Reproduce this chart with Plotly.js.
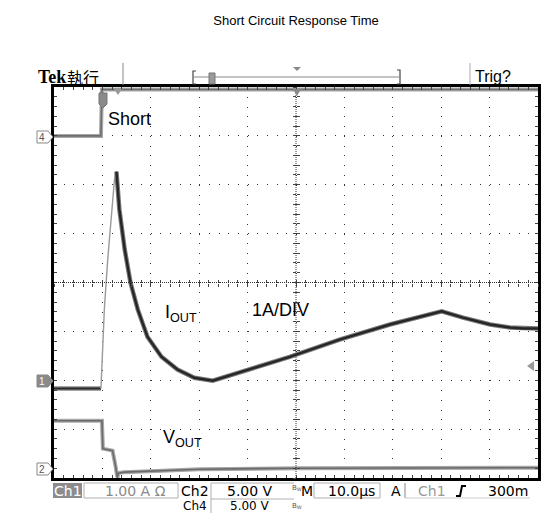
<!DOCTYPE html>
<html><head><meta charset="utf-8">
<script src="https://cdn.plot.ly/plotly-3.0.1.min.js"></script>
<style>html,body{margin:0;padding:0;background:#fff;}#chart{width:542px;height:513px;}</style>
</head><body><div id="chart"></div>
<script>
// Time in µs (10 µs/div, 0 = screen centre); values in divisions (0 = screen centre)
// Ch1 : output current I_OUT (1 A/div)
const iTime = [-50, -40.3, -39.6, -38.9, -38.1, -37.5, -37.1, -36.5, -35.4, -34.2, -32.7, -30.7, -27.8, -24.5, -21.0, -18.3, -17.2, -1.3, 9.0, 19.4, 30.1, 34.5, 40.1, 44.2, 46.9, 50];
const iVal  = [-2.17, -2.17, -0.55, 0.47, 1.50, 2.11, 2.27, 1.50, 0.68, 0.00, -0.55, -1.11, -1.52, -1.78, -1.95, -1.99, -2.01, -1.52, -1.17, -0.86, -0.59, -0.72, -0.86, -0.92, -0.94, -0.94];
const iEdgeEnd = 6;   // index of the current peak (end of the fast rising edge)
// Ch2 : output voltage V_OUT
const vTime = [-50, -40.1, -39.9, -37.9, -37.3, -36.9, -36.7, -35.5, -19.9, 0.8, 50];
const vVal  = [-2.83, -2.83, -3.40, -3.44, -3.75, -3.99, -3.90, -3.88, -3.82, -3.80, -3.79];
// Ch4 : short command
const sTime = [-50, -40.3, -40.1, 50];
const sVal  = [3.0, 3.0, 3.95, 3.95];

const chartTitle = 'Short Circuit Response Time';
const statusRow1 = ['Ch1', '1.00 A \u03a9', 'Ch2', '5.00 V', 'M', '10.0\u00b5s', 'A', 'Ch1', '300m'];
const statusRow2 = ['Ch4', '5.00 V'];

const W = 542, H = 513, L = 54, R = 4, T = 87, B = 35;
const pw = W - L - R, ph = H - T - B;
const fx = x => (x - L) / pw;
const fy = y => (H - B - y) / ph;
const P = (pts, close) => 'M' + pts.map(p => fx(p[0]).toFixed(5) + ',' + fy(p[1]).toFixed(5)).join('L') + (close === false ? '' : 'Z');

const SANS = 'Liberation Sans, Arial, sans-serif';
const TEKF = 'DejaVu Sans, sans-serif';

function seg(a, i0, i1) { return a.slice(i0, i1 + 1); }

const traces = [
  // Ch4
  {x: sTime, y: sVal, mode: 'lines', line: {color: '#a8a8a8', width: 4}, hoverinfo: 'skip'},
  {x: sTime, y: sVal, mode: 'lines', line: {color: '#6e6e6e', width: 1.6}, hoverinfo: 'skip'},
  // Ch2
  {x: vTime, y: vVal, mode: 'lines', line: {color: '#a8a8a8', width: 4}, hoverinfo: 'skip'},
  {x: vTime, y: vVal, mode: 'lines', line: {color: '#6a6a6a', width: 1.6}, hoverinfo: 'skip'},
  // Ch1 baseline
  {x: seg(iTime, 0, 1), y: seg(iVal, 0, 1), mode: 'lines', line: {color: '#8a8a8a', width: 4.5}, hoverinfo: 'skip'},
  {x: seg(iTime, 0, 1), y: seg(iVal, 0, 1), mode: 'lines', line: {color: '#2a2a2a', width: 2}, hoverinfo: 'skip'},
  // Ch1 fast edge
  {x: seg(iTime, 1, iEdgeEnd), y: seg(iVal, 1, iEdgeEnd), mode: 'lines', line: {color: '#9a9a9a', width: 1.4}, hoverinfo: 'skip'},
  // Ch1 decay and ramp
  {x: iTime.slice(iEdgeEnd), y: iVal.slice(iEdgeEnd), mode: 'lines', line: {color: '#7a7a7a', width: 4.5}, hoverinfo: 'skip'},
  {x: iTime.slice(iEdgeEnd), y: iVal.slice(iEdgeEnd), mode: 'lines', line: {color: '#262626', width: 2.4}, hoverinfo: 'skip'},
  // carriers for the centre-line tick axes
  {x: [], y: [], xaxis: 'x2', yaxis: 'y2', hoverinfo: 'skip'},
  {x: [], y: [], xaxis: 'x3', yaxis: 'y3', hoverinfo: 'skip'}
];

const baseX = {range: [-50, 50], showticklabels: false, zeroline: false, showgrid: false, fixedrange: true};
const baseY = {range: [-4, 4], showticklabels: false, zeroline: false, showgrid: false, fixedrange: true};

const shapes = [
  // centre cross lines
  {type: 'line', xref: 'paper', yref: 'y', x0: 0, x1: 1, y0: 0, y1: 0, line: {color: '#333', width: 1, dash: '1px,1px'}},
  {type: 'line', xref: 'x', yref: 'paper', x0: 0, x1: 0, y0: 0, y1: 1, line: {color: '#333', width: 1, dash: '1px,1px'}},
  // header separators
  {type: 'path', xref: 'paper', yref: 'paper', path: P([[123, 63], [123, 85]], false), line: {color: '#888', width: 1}},
  {type: 'path', xref: 'paper', yref: 'paper', path: P([[470, 63], [470, 85]], false), line: {color: '#aaa', width: 1}},
  // record bar
  {type: 'path', xref: 'paper', yref: 'paper', path: P([[196, 71], [193, 71], [193, 84], [196, 84]], false), line: {color: '#444', width: 1.2}},
  {type: 'path', xref: 'paper', yref: 'paper', path: P([[397, 70], [400, 70], [400, 84], [397, 84]], false), line: {color: '#444', width: 1.2}},
  {type: 'path', xref: 'paper', yref: 'paper', path: P([[194, 77], [399, 77]], false), line: {color: '#888', width: 1}},
  {type: 'path', xref: 'paper', yref: 'paper', path: P([[209, 73], [215, 73], [215, 84], [209, 84]]), fillcolor: '#9a9a9a', line: {color: '#777', width: 1}},
  {type: 'path', xref: 'paper', yref: 'paper', path: P([[293, 67], [301, 67], [297, 71]]), fillcolor: '#888', line: {width: 0}},
  // markers on the top edge
  {type: 'path', xref: 'paper', yref: 'paper', path: P([[99, 93], [107, 93], [107, 104], [103, 108], [99, 104]]), fillcolor: '#8a8a8a', line: {color: '#777', width: 1}},
  {type: 'path', xref: 'paper', yref: 'paper', path: P([[114, 89], [122, 89], [118, 95]]), fillcolor: '#999', line: {width: 0}},
  {type: 'path', xref: 'paper', yref: 'paper', path: P([[293, 89], [301, 89], [297, 96]]), fillcolor: '#888', line: {width: 0}},
  // trigger level arrow
  {type: 'path', xref: 'paper', yref: 'paper', path: P([[527, 366], [534, 361], [534, 371]]), fillcolor: '#9a9a9a', line: {width: 0}},
  // channel ground markers
  {type: 'path', xref: 'paper', yref: 'paper', path: P([[37, 131], [48, 131], [53, 137], [48, 143], [37, 143]]), fillcolor: '#fff', line: {color: '#888', width: 1}},
  {type: 'path', xref: 'paper', yref: 'paper', path: P([[37, 375], [48, 375], [53, 381], [48, 387], [37, 387]]), fillcolor: '#8a8a8a', line: {color: '#888', width: 1}},
  {type: 'path', xref: 'paper', yref: 'paper', path: P([[37, 463], [48, 463], [53, 469], [48, 475], [37, 475]]), fillcolor: '#fff', line: {color: '#888', width: 1}},
  // status bar boxes
  {type: 'path', xref: 'paper', yref: 'paper', path: P([[53, 483], [82, 483], [82, 498], [53, 498]]), fillcolor: '#8c8c8c', line: {width: 0}},
  {type: 'path', xref: 'paper', yref: 'paper', path: P([[84, 483], [178, 483], [178, 498], [84, 498]]), fillcolor: 'rgba(0,0,0,0)', line: {color: '#b0b0b0', width: 1}},
  {type: 'path', xref: 'paper', yref: 'paper', path: P([[211, 514], [211, 483], [294, 483]], false), line: {color: '#b0b0b0', width: 1}},
  {type: 'path', xref: 'paper', yref: 'paper', path: P([[211, 499], [294, 499]], false), line: {color: '#b0b0b0', width: 1}},
  {type: 'path', xref: 'paper', yref: 'paper', path: P([[314, 483], [380, 483], [380, 498], [314, 498]]), fillcolor: 'rgba(0,0,0,0)', line: {color: '#b0b0b0', width: 1}},
  {type: 'path', xref: 'paper', yref: 'paper', path: P([[405, 483], [405, 498]], false), line: {color: '#888', width: 1}},
  {type: 'path', xref: 'paper', yref: 'paper', path: P([[405, 498], [530, 498]], false), line: {color: '#ccc', width: 1}},
  {type: 'path', xref: 'paper', yref: 'paper', path: P([[456, 496], [460, 496], [462, 486], [466, 486]], false), line: {color: '#000', width: 2}}
];

function ann(text, x, y, size, opts) {
  return Object.assign({text: text, xref: 'paper', yref: 'paper', x: fx(x), y: fy(y), xanchor: 'left', yanchor: 'middle',
    showarrow: false, font: {family: SANS, size: size, color: '#000'}}, opts || {});
}

const annotations = [
  ann('<b>Tek</b>', 36, 77, 18, {font: {family: 'Liberation Serif, serif', size: 18, color: '#000'}}),
  ann('執行', 65, 77, 16, {font: {family: 'Noto Sans CJK TC, Noto Sans CJK SC, sans-serif', size: 16, color: '#000'}}),
  ann('Trig?', 473, 76, 16),
  ann('Short', 106, 119, 18),
  ann('I<sub>OUT</sub>', 163, 313, 18),
  ann('1A/DIV', 250, 310, 18),
  ann('V<sub>OUT</sub>', 161, 438, 18),
  ann('4', 42, 137, 10, {xanchor: 'center', font: {family: SANS, size: 10, color: '#555'}}),
  ann('1', 42, 381, 10, {xanchor: 'center', font: {family: SANS, size: 10, color: '#fff'}}),
  ann('2', 42, 469, 10, {xanchor: 'center', font: {family: SANS, size: 10, color: '#555'}}),
  // status bar
  ann(statusRow1[0], 67.5, 491, 14, {xanchor: 'center', font: {family: TEKF, size: 14, color: '#fff'}}),
  ann(statusRow1[1], 135, 491, 14, {xanchor: 'center', font: {family: TEKF, size: 14, color: '#8a8a8a'}}),
  ann(statusRow1[2], 194.5, 491, 14, {xanchor: 'center', font: {family: TEKF, size: 14, color: '#000'}}),
  ann(statusRow1[3], 250, 491, 14, {xanchor: 'center', font: {family: TEKF, size: 14, color: '#000'}}),
  ann('B<sub>W</sub>', 297, 488, 7, {xanchor: 'center', font: {family: TEKF, size: 7, color: '#555'}}),
  ann(statusRow1[4], 306.5, 491, 14, {xanchor: 'center', font: {family: TEKF, size: 14, color: '#000'}}),
  ann(statusRow1[5], 351, 491, 14, {xanchor: 'center', font: {family: TEKF, size: 14, color: '#000'}}),
  ann(statusRow1[6], 396, 491, 14, {xanchor: 'center', font: {family: TEKF, size: 14, color: '#000'}}),
  ann(statusRow1[7], 432, 491, 14, {xanchor: 'center', font: {family: TEKF, size: 14, color: '#999'}}),
  ann(statusRow1[8], 507.5, 491, 14, {xanchor: 'center', font: {family: TEKF, size: 14, color: '#000'}}),
  ann(statusRow2[0], 195, 506, 12, {xanchor: 'center', font: {family: TEKF, size: 12, color: '#000'}}),
  ann(statusRow2[1], 250, 506, 12, {xanchor: 'center', font: {family: TEKF, size: 12, color: '#000'}}),
  ann('B<sub>W</sub>', 297, 506, 7, {xanchor: 'center', font: {family: TEKF, size: 7, color: '#555'}})
];

const layout = {
  width: W, height: H,
  margin: {l: L, r: R, t: T, b: B, pad: 0},
  paper_bgcolor: '#fff', plot_bgcolor: '#fff',
  showlegend: false,
  title: {text: chartTitle, x: 0.5, xref: 'paper', y: 1 - 20 / H, yref: 'container', yanchor: 'middle',
          font: {family: SANS, size: 13, color: '#000'}},
  xaxis: Object.assign({}, baseX, {
    showgrid: true, gridcolor: '#333', gridwidth: 1, griddash: '1px,' + (ph / 40 - 1).toFixed(3) + 'px',
    dtick: 10, tick0: 0, ticks: 'inside', ticklen: 3, tickcolor: '#444',
    minor: {dtick: 2, tick0: 0, ticks: 'inside', ticklen: 3, tickcolor: '#444', showgrid: false},
    showline: true, linecolor: '#000', linewidth: 3, mirror: 'allticks'
  }),
  yaxis: Object.assign({}, baseY, {
    showgrid: true, gridcolor: '#333', gridwidth: 1, griddash: '1px,' + (pw / 50 - 1).toFixed(3) + 'px',
    dtick: 1, tick0: 0, ticks: 'inside', ticklen: 3, tickcolor: '#444',
    minor: {dtick: 0.2, tick0: 0, ticks: 'inside', ticklen: 3, tickcolor: '#444', showgrid: false},
    showline: true, linecolor: '#000', linewidth: 3, mirror: 'allticks'
  }),
  xaxis2: Object.assign({}, baseX, {overlaying: 'x', anchor: 'free', position: 0.5, ticks: 'outside', ticklen: 3, dtick: 2, tick0: 0, tickcolor: '#444', showline: false}),
  xaxis3: Object.assign({}, baseX, {overlaying: 'x', anchor: 'free', position: 0.5, ticks: 'inside', ticklen: 3, dtick: 2, tick0: 0, tickcolor: '#444', showline: false}),
  yaxis2: Object.assign({}, baseY, {overlaying: 'y', anchor: 'free', position: 0.5, side: 'left', ticks: 'outside', ticklen: 3, dtick: 0.2, tick0: 0, tickcolor: '#444', showline: false}),
  yaxis3: Object.assign({}, baseY, {overlaying: 'y', anchor: 'free', position: 0.5, side: 'left', ticks: 'inside', ticklen: 3, dtick: 0.2, tick0: 0, tickcolor: '#444', showline: false}),
  shapes: shapes,
  annotations: annotations
};

Plotly.newPlot('chart', traces, layout, {staticPlot: true, displayModeBar: false});
</script>
</body></html>
